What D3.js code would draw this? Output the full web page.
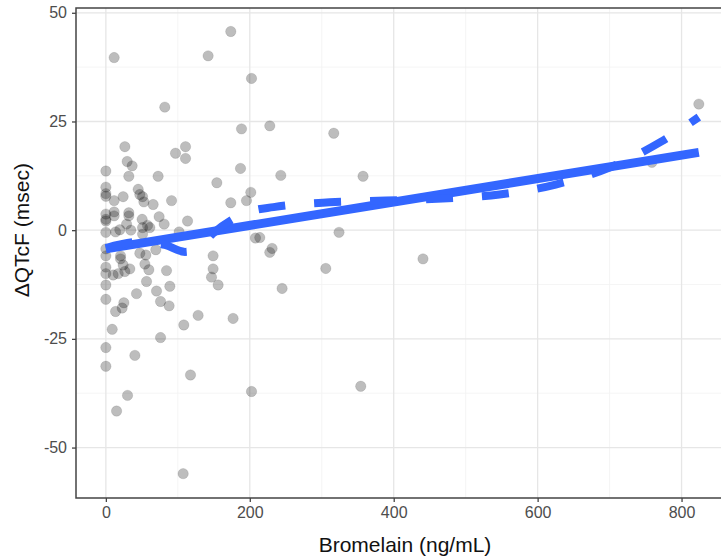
<!DOCTYPE html>
<html>
<head>
  <meta charset="utf-8">
  <script src="https://d3js.org/d3.v7.min.js"></script>
  <style>
    body { margin: 0; background: #fff; }
    svg { display: block; font-family: Arial, "Liberation Sans", sans-serif; }
    .tick text { fill: #4d4d4d; font-size: 16px; }
    .axis-title { font-size: 21px; fill: #111; }
  </style>
</head>
<body>
<script>
  // concentration (ng/mL) and change in QTcF (msec) for each subject
  var concX = [11.5, 173.6, 142.1, 202.4, 81.9, 188.5, 227.8, 26.4, 110.7, 96.8,
    110.7, 29.6, 36.5, 0, 187.1, 31.9, 72.6, 154.2, 201.4, 195.4,
    173.6, 0, 0, 0, 11.5, 24, 44.9, 47.2, 51, 52.8,
    65.7, 91.3, 0, 0, 0, 11.5, 11.5, 31.9, 31.9, 28.8,
    19.4, 13.5, 0, 34.7, 50.4, 51, 57.9, 61.1, 74, 81,
    51, 113.5, 101.8, 207.9, 227.8, 0, 0, 20.4, 20.4, 24,
    33.3, 0, 0, 10.1, 17.1, 26.4, 47.2, 55.6, 69.4, 54.2,
    59.7, 84.3, 149, 149, 146.8, 156, 0, 56.5, 88.9, 0,
    42.6, 70.4, 76, 87.9, 25, 22.6, 13.5, 128.2, 176.8, 8.8,
    108.3, 0, 0, 40.3, 76, 117.6, 30.1, 14.9, 202.4, 107.4,
    316.7, 243.1, 357.4, 324, 213.9, 231, 305.6, 244.9, 440.7, 354.2,
    824, 758.8];
  var dQTcF = [39.7, 45.7, 40.1, 34.9, 28.3, 23.3, 24.0, 19.2, 19.2, 17.7,
    16.5, 15.8, 14.8, 13.6, 14.2, 12.4, 12.4, 10.9, 8.7, 6.8,
    6.3, 9.9, 8.4, 7.8, 6.8, 7.7, 9.4, 8.2, 7.7, 6.5,
    5.9, 6.8, 3.7, 2.5, 2.1, 4.2, 3.3, 4.0, 3.3, 1.4,
    0.1, -0.4, -0.5, 0, 2.5, 0.6, 1.1, 0.6, 3.1, 1.4,
    -0.9, 2.1, -0.4, -1.8, -5.1, -4.3, -5.9, -5.9, -6.6, -8.0,
    -8.9, -8.5, -10.0, -10.3, -10.0, -9.5, -5.3, -5.7, -4.5, -7.8,
    -9.1, -9.3, -5.9, -8.9, -10.8, -12.6, -12.6, -11.8, -12.9, -15.9,
    -14.6, -14.0, -16.4, -17.4, -16.7, -17.9, -18.7, -19.6, -20.3, -22.8,
    -21.8, -27.0, -31.3, -28.8, -24.7, -33.3, -38.0, -41.6, -37.1, -56.0,
    22.3, 12.6, 12.4, -0.5, -1.7, -4.2, -8.8, -13.4, -6.6, -35.9,
    29.0, 15.6];

  // linear regression line (end points)
  var lmX = [0, 824];
  var lmY = [-4.3, 17.9];

  // loess smooth
  var loessX = [0, 47, 82, 110, 130, 149, 176, 200, 233, 311, 389, 468, 547, 625, 700, 771, 824];
  var loessY = [-4.1, -2.7, -3.4, -5.0, -3.9, -0.7, 2.5, 4.3, 5.3, 6.4, 6.8, 7.3, 8.2, 10.5, 14.4, 20.3, 26];

  var xTicks = [0, 200, 400, 600, 800];
  var yTicks = [-50, -25, 0, 25, 50];
  var xMinor = [100, 300, 500, 700];
  var yMinor = [-37.5, -12.5, 12.5, 37.5];

  (function () {
    var W = 721, H = 560;
    var pL = 76, pT = 8, pR = 733, pB = 498;

    var svg = d3.select("body").append("svg")
        .attr("width", W)
        .attr("height", H);

    var x = d3.scaleLinear().domain([-41.5, 871.5]).range([pL, pR]);
    var y = d3.scaleLinear().domain([-61.6, 51.1]).range([pB, pT]);

    // grid
    var grid = svg.append("g");
    grid.selectAll(null).data(xMinor).enter().append("line")
        .attr("x1", d => x(d)).attr("x2", d => x(d))
        .attr("y1", pT).attr("y2", pB)
        .attr("stroke", "#f3f3f3").attr("stroke-width", 0.8);
    grid.selectAll(null).data(yMinor).enter().append("line")
        .attr("x1", pL).attr("x2", pR)
        .attr("y1", d => y(d)).attr("y2", d => y(d))
        .attr("stroke", "#f3f3f3").attr("stroke-width", 0.8);
    grid.selectAll(null).data(xTicks).enter().append("line")
        .attr("x1", d => x(d)).attr("x2", d => x(d))
        .attr("y1", pT).attr("y2", pB)
        .attr("stroke", "#e6e6e6").attr("stroke-width", 1.3);
    grid.selectAll(null).data(yTicks).enter().append("line")
        .attr("x1", pL).attr("x2", pR)
        .attr("y1", d => y(d)).attr("y2", d => y(d))
        .attr("stroke", "#e6e6e6").attr("stroke-width", 1.3);

    // points
    var pts = concX.map((c, i) => [c, dQTcF[i]]);
    svg.append("g").selectAll("circle").data(pts).enter().append("circle")
        .attr("cx", d => x(d[0]))
        .attr("cy", d => y(d[1]))
        .attr("r", 5.2)
        .attr("fill", "#000")
        .attr("fill-opacity", 0.26)
        .attr("stroke", "#000")
        .attr("stroke-opacity", 0.1);

    // fitted lines
    var line = d3.line().x(d => x(d[0])).y(d => y(d[1]));
    svg.append("path")
        .datum(lmX.map((v, i) => [v, lmY[i]]))
        .attr("d", line)
        .attr("fill", "none")
        .attr("stroke", "#3366ff")
        .attr("stroke-width", 9);

    svg.append("path")
        .datum(loessX.map((v, i) => [v, loessY[i]]))
        .attr("d", d3.line().curve(d3.curveMonotoneX).x(d => x(d[0])).y(d => y(d[1])))
        .attr("fill", "none")
        .attr("stroke", "#3366ff")
        .attr("stroke-width", 8)
        .attr("stroke-dasharray", "27,29");

    // panel border
    svg.append("path")
        .attr("d", "M" + pR + "," + pT + "H" + pL + "V" + pB + "H" + pR)
        .attr("fill", "none")
        .attr("stroke", "#444")
        .attr("stroke-width", 1.5);

    // axes (plain hyphen for negatives, as in the original)
    var fmt = d => String(d);
    var xAxis = svg.append("g")
        .attr("transform", "translate(0," + pB + ")")
        .call(d3.axisBottom(x).tickValues(xTicks).tickFormat(fmt).tickSize(4).tickPadding(5));
    var yAxis = svg.append("g")
        .attr("transform", "translate(" + pL + ",0)")
        .call(d3.axisLeft(y).tickValues(yTicks).tickFormat(fmt).tickSize(4).tickPadding(5));
    [xAxis, yAxis].forEach(function (a) {
      a.select(".domain").remove();
      a.selectAll(".tick line").attr("stroke", "#444").attr("stroke-width", 1.3);
      a.attr("font-family", null).attr("font-size", null);
    });

    svg.append("text")
        .attr("class", "axis-title")
        .attr("x", 405)
        .attr("y", 552)
        .attr("text-anchor", "middle")
        .text("Bromelain (ng/mL)");

    svg.append("text")
        .attr("class", "axis-title")
        .attr("transform", "translate(29," + y(0) + ") rotate(-90)")
        .attr("text-anchor", "middle")
        .text("ΔQTcF (msec)");
  })();
</script>
</body>
</html>
